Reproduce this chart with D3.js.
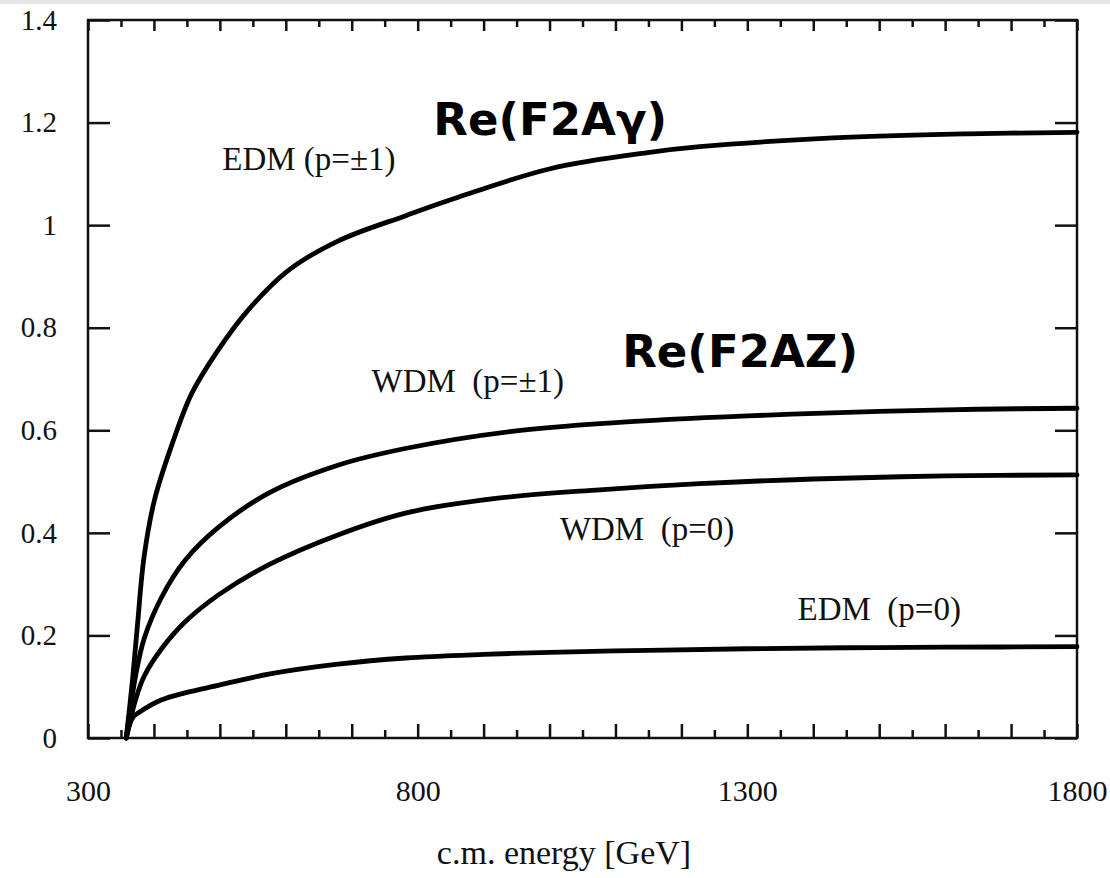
<!DOCTYPE html>
<html>
<head>
<meta charset="utf-8">
<script src="https://cdn.jsdelivr.net/npm/d3@7"></script>
<style>
  html, body { margin: 0; padding: 0; background: #fff; }
  svg { display: block; }
</style>
</head>
<body>
<script>
// ---- data ----
const edmPm1E = [358, 367, 375, 385, 401, 427, 457, 494, 540, 602, 679, 783, 849, 1001, 1152, 1228, 1430, 1633, 1800];
const edmPm1V = [0, 0.107, 0.220, 0.353, 0.465, 0.571, 0.671, 0.750, 0.830, 0.910, 0.969, 1.019, 1.049, 1.110, 1.142, 1.153, 1.170, 1.178, 1.181];

const wdmPm1E = [358, 372, 385, 411, 447, 499, 576, 679, 783, 943, 1100, 1300, 1500, 1650, 1800];
const wdmPm1V = [0, 0.120, 0.193, 0.273, 0.346, 0.412, 0.479, 0.532, 0.565, 0.598, 0.615, 0.628, 0.637, 0.641, 0.643];

const wdmP0E  = [358, 372, 385, 411, 447, 499, 576, 679, 783, 925, 1076, 1228, 1400, 1600, 1800];
const wdmP0V  = [0, 0.074, 0.120, 0.173, 0.226, 0.280, 0.339, 0.396, 0.439, 0.468, 0.484, 0.496, 0.505, 0.511, 0.513];

const edmP0E  = [358, 368, 380, 411, 447, 499, 576, 679, 782, 900, 1000, 1150, 1300, 1450, 1600, 1800];
const edmP0V  = [0, 0.040, 0.052, 0.074, 0.088, 0.103, 0.125, 0.144, 0.156, 0.163, 0.167, 0.171, 0.174, 0.176, 0.177, 0.178];

const xTickLabels = [300, 800, 1300, 1800];
const yTickValues = [0, 0.2, 0.4, 0.6, 0.8, 1, 1.2, 1.4];
const curveLabels = [
  { text: "EDM (p=\u00b11)", e: 635, v: 1.107 },
  { text: "WDM  (p=\u00b11)", e: 876, v: 0.674 },
  { text: "WDM  (p=0)", e: 1148, v: 0.386 },
  { text: "EDM  (p=0)", e: 1500, v: 0.230 }
];
const titles = [
  { text: "Re(F2A\u03b3)", e: 1001, v: 1.175 },
  { text: "Re(F2AZ)", e: 1289, v: 0.723 }
];
const xTitle = "c.m. energy [GeV]";

// ---- layout ----
const W = 1110, H = 878;
const mLeft = 88, mRight = 1077, mTop = 20, mBottom = 738;

const svg = d3.select("body").append("svg").attr("width", W).attr("height", H);
svg.append("rect").attr("x", 0).attr("y", 0).attr("width", W).attr("height", 4).attr("fill", "#e6e6e6");

const x = d3.scaleLinear().domain([300, 1800]).range([mLeft, mRight]);
const y = d3.scaleLinear().domain([0, 1.4]).range([mBottom, mTop]);

const serif = "'Liberation Serif', 'DejaVu Serif', serif";

// frame
svg.append("rect")
  .attr("x", mLeft).attr("y", mTop)
  .attr("width", mRight - mLeft).attr("height", mBottom - mTop)
  .attr("fill", "none").attr("stroke", "#111").attr("stroke-width", 2.5);

// ticks (inward)
const majorX = d3.range(300, 1801, 100);
const minorX = d3.range(350, 1800, 100);
function tickAxis(gen, values, size, tx, ty) {
  const g = svg.append("g").attr("transform", `translate(${tx},${ty})`)
    .call(gen.tickValues(values).tickSizeInner(size).tickSizeOuter(0).tickFormat(""));
  g.select(".domain").remove();
  g.selectAll(".tick line").attr("stroke", "#111").attr("stroke-width", 2.5);
  return g;
}
tickAxis(d3.axisBottom(x), majorX, -14, 0, mBottom);
tickAxis(d3.axisBottom(x), minorX, -8, 0, mBottom);
tickAxis(d3.axisTop(x), majorX, -11, 0, mTop);
tickAxis(d3.axisTop(x), minorX, -7, 0, mTop);
tickAxis(d3.axisLeft(y), yTickValues, -22, mLeft, 0);
tickAxis(d3.axisRight(y), yTickValues, -22, mRight, 0);

// x tick labels
const gxl = svg.append("g").attr("transform", `translate(0,${mBottom})`)
  .call(d3.axisBottom(x).tickValues(xTickLabels).tickSize(0).tickPadding(63).tickFormat(d3.format("d")));
gxl.select(".domain").remove();
gxl.selectAll("text").attr("font-family", serif).attr("font-size", 30).attr("fill", "#111").attr("dy", "0");

// y tick labels
const gyl = svg.append("g").attr("transform", `translate(${mLeft},0)`)
  .call(d3.axisLeft(y).tickValues(yTickValues).tickSize(0).tickPadding(31).tickFormat(d => String(+d.toFixed(1))));
gyl.select(".domain").remove();
gyl.selectAll("text").attr("font-family", serif).attr("font-size", 29).attr("fill", "#111");

// x title
svg.append("text").attr("x", 564).attr("y", 864).attr("text-anchor", "middle")
  .attr("font-family", serif).attr("font-size", 34).attr("fill", "#111").text(xTitle);

// curves
const line = d3.line().x(d => x(d[0])).y(d => y(d[1])).curve(d3.curveCatmullRom.alpha(0.5));
[[edmPm1E, edmPm1V], [wdmPm1E, wdmPm1V], [wdmP0E, wdmP0V], [edmP0E, edmP0V]].forEach(([es, vs]) => {
  svg.append("path")
    .datum(es.map((e, i) => [e, vs[i]]))
    .attr("d", line)
    .attr("fill", "none").attr("stroke", "#000").attr("stroke-width", 4.8)
    .attr("stroke-linejoin", "round").attr("stroke-linecap", "round");
});

// curve labels
curveLabels.forEach(l => {
  svg.append("text").attr("x", x(l.e)).attr("y", y(l.v)).attr("text-anchor", "middle")
    .attr("font-family", serif).attr("font-size", 33).attr("fill", "#111")
    .style("white-space", "pre").text(l.text);
});

// big titles
titles.forEach(t => {
  svg.append("text").attr("x", x(t.e)).attr("y", y(t.v)).attr("text-anchor", "middle")
    .attr("font-family", "'DejaVu Sans', 'Open Sans', sans-serif").attr("font-weight", "bold")
    .attr("font-size", 45).attr("fill", "#000").text(t.text);
});
</script>
</body>
</html>
